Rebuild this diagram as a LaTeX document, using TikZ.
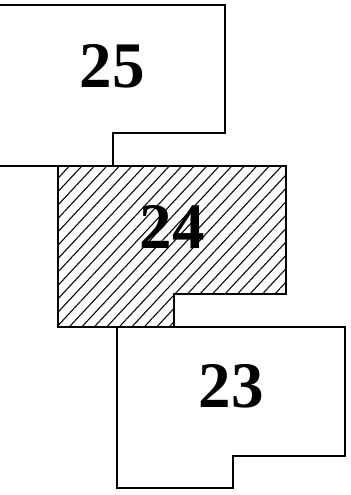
\documentclass[tikz,border=0pt]{standalone}
\usepackage{fontspec}
\setmainfont{Liberation Serif}
\usetikzlibrary{patterns.meta}
\begin{document}
\begin{tikzpicture}[block/.style = {draw, line width = 1pt, line join = miter},
		num/.style = {font = \fontsize{37}{40}\selectfont\bfseries, inner sep = 0pt}]
				\tikzstyle{hatched}=[pattern={Lines[angle=47, distance=5.2pt, line width=0.6pt]}]
				\useasboundingbox (0,0) rectangle (7.02,9.9);
				% middle block, hatched
				\draw[block, hatched] (1.16,6.58) -- (5.72,6.58) -- (5.72,4.02) -- (3.48,4.02) -- (3.48,3.36) -- (1.16,3.36) -- cycle;
				% upper block, cut at the left
				\draw[block] (0,6.58) -- (2.26,6.58) -- (2.26,7.24) -- (4.50,7.24) -- (4.50,9.80) -- (0,9.80);
				% lower block
				\draw[block] (2.34,3.36) -- (6.90,3.36) -- (6.90,0.78) -- (4.66,0.78) -- (4.66,0.14) -- (2.34,0.14) -- cycle;
				\node (n25) at (2.24, 8.58) [num] {25};
				\node (n24) at (3.44, 5.36) [num] {24};
				\node (n23) at (4.62, 2.18) [num] {23};
				\end{tikzpicture}
\end{document}
